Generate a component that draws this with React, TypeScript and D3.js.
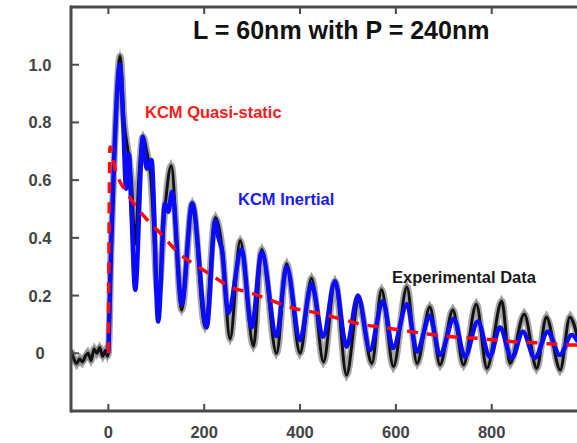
import React from 'react';
import * as d3 from 'd3';

// ---- data ----
const titleText = 'L = 60nm with P = 240nm';

const xTicks = [0, 200, 400, 600, 800];
const xTickLabels = ['0', '200', '400', '600', '800'];
const yTicks = [0, 0.2, 0.4, 0.6, 0.8, 1.0];
const yTickLabels = ['0', '0.2', '0.4', '0.6', '0.8', '1.0'];

// Experimental data (black, with grey uncertainty band)
const expX = [
  -78, -72, -66, -60, -54, -48, -42, -36, -30, -24, -18, -12, -6, -2, 0,
  5.6, 12, 24.5, 33, 41, 48, 56, 64, 72, 80, 88, 104, 118, 131, 153, 175, 202, 223, 237,
  254, 275, 303, 320, 351, 372, 400, 424, 449, 473, 497, 522, 550, 570, 595, 623, 644,
  671, 692, 719, 741, 768, 790, 821, 838, 868, 894, 914, 943, 963, 980,
];
const expY = [
  0.01, -0.02, -0.035, -0.02, -0.03, -0.01, 0.0, -0.025, 0.015, 0.0, 0.02, -0.01, 0.01, -0.01, 0.0,
  0.36, 0.67, 1.03, 0.8, 0.7, 0.6, 0.38, 0.62, 0.75, 0.7, 0.62, 0.2, 0.5, 0.65, 0.15, 0.52, 0.09, 0.47, 0.37,
  0.05, 0.39, 0.025, 0.36, 0.0, 0.31, 0.0, 0.26, -0.03, 0.25, -0.075, 0.18, -0.035, 0.22, -0.046, 0.23, -0.035,
  0.16, -0.04, 0.15, -0.04, 0.17, -0.052, 0.18, -0.035, 0.135, -0.052, 0.125, -0.058, 0.125, 0.05,
];

// KCM Inertial (blue)
const inertialX = [
  0, 5.6, 12, 24, 31, 37, 43, 48, 56, 72, 80, 90, 104, 118, 125, 133, 153, 175, 205, 223, 230, 237,
  250, 278, 299, 320, 351, 372, 400, 424, 448, 473, 497, 521, 546, 573, 594, 623, 644, 671, 692,
  721, 744, 771, 796, 817, 842, 865, 890, 917, 942, 967, 980,
];
const inertialY = [
  0, 0.36, 0.67, 1.0, 0.8, 0.57, 0.69, 0.5, 0.22, 0.75, 0.64, 0.67, 0.11, 0.52, 0.49, 0.56, 0.17, 0.52, 0.09, 0.46, 0.4, 0.36,
  0.14, 0.36, 0.09, 0.35, 0.06, 0.3, 0.046, 0.24, 0.057, 0.25, 0.023, 0.2, 0.011, 0.18, 0.018, 0.17, 0.006, 0.13, -0.006,
  0.12, -0.012, 0.11, -0.012, 0.09, -0.016, 0.075, -0.016, 0.075, -0.006, 0.063, 0.04,
];

// KCM Quasi-static (red dashed)
const quasiX = [
  0, 3.5, 14, 41, 77, 112, 145, 181, 216, 254, 296, 337, 385, 435, 483, 529, 573, 623, 667,
  717, 761, 807, 859, 901, 953, 980,
];
const quasiY = [
  0, 0.715, 0.64, 0.55, 0.47, 0.41, 0.35, 0.306, 0.27, 0.23, 0.21, 0.185, 0.157, 0.14, 0.12, 0.1,
  0.09, 0.077, 0.067, 0.057, 0.053, 0.046, 0.039, 0.036, 0.029, 0.029,
];

const annotations = [
  { text: 'KCM Quasi-static', x: 145, y: 118, color: '#ff1a1a' },
  { text: 'KCM Inertial', x: 238, y: 205, color: '#1a1aff' },
  { text: 'Experimental Data', x: 392, y: 283, color: '#1a1a1a' },
];

const W = 577;
const H = 443;
const plot = { left: 71, right: 577, top: 7, bottom: 411 };

export default function App() {
  const x = d3.scaleLinear().domain([-78, 978]).range([plot.left, plot.right]);
  const y = d3.scaleLinear().domain([-0.2, 1.2]).range([plot.bottom, plot.top]);

  const pts = (xs: number[], ys: number[]) => xs.map((v, i) => [v, ys[i]] as [number, number]);
  const line = d3
    .line<[number, number]>()
    .x((d) => x(d[0]))
    .y((d) => y(d[1]))
    .curve(d3.curveMonotoneX);
  const band = d3
    .area<[number, number]>()
    .x((d) => x(d[0]))
    .y0((d) => y(d[1] - 0.022))
    .y1((d) => y(d[1] + 0.022))
    .curve(d3.curveMonotoneX);

  const exp = pts(expX, expY);
  const inertial = pts(inertialX, inertialY);
  const quasi = pts(quasiX, quasiY);

  const axisColor = '#4a4a4a';
  const font = '"Liberation Sans", Arial, sans-serif';

  return (
    <svg
      width={W}
      height={H}
      style={{ position: 'absolute', left: 0, top: 0, background: '#fff' }}
    >
      <defs>
        <clipPath id="plotClip">
          <rect x={plot.left} y={plot.top} width={plot.right - plot.left} height={plot.bottom - plot.top} />
        </clipPath>
      </defs>
      <rect x={0} y={0} width={W} height={H} fill="#fff" />

      <g clipPath="url(#plotClip)">
        <path d={band(exp) || ''} fill="#8a8a8a" opacity={0.75} />
        <path d={line(exp) || ''} fill="none" stroke="#8a8a8a" strokeWidth={7} strokeLinejoin="round" opacity={0.75} />
        <path d={line(exp) || ''} fill="none" stroke="#111" strokeWidth={3} strokeLinejoin="round" />
        <path d={line(inertial) || ''} fill="none" stroke="#0a0aff" strokeWidth={4.5} strokeLinejoin="round" />
        <path
          d={line(quasi) || ''}
          fill="none"
          stroke="#ff0a0a"
          strokeWidth={3.5}
          strokeDasharray="11,9"
        />
      </g>

      {/* frame */}
      <g stroke={axisColor} strokeWidth={3} fill="none">
        <line x1={plot.left} x2={plot.left} y1={plot.top - 1.5} y2={plot.bottom + 1.5} />
        <line x1={plot.left} x2={plot.right} y1={plot.top} y2={plot.top} />
        <line x1={plot.left} x2={plot.right} y1={plot.bottom} y2={plot.bottom} />
      </g>

      {/* ticks */}
      <g stroke={axisColor} strokeWidth={2}>
        {xTicks.map((t) => (
          <g key={'xt' + t}>
            <line x1={x(t)} x2={x(t)} y1={plot.bottom} y2={plot.bottom - 7} />
            <line x1={x(t)} x2={x(t)} y1={plot.top} y2={plot.top + 7} />
          </g>
        ))}
        {yTicks.map((t) => (
          <line key={'yt' + t} x1={plot.left} x2={plot.left + 8} y1={y(t)} y2={y(t)} />
        ))}
      </g>

      {/* tick labels */}
      <g fontFamily={font} fontWeight="bold" fontSize={16.5} fill="#444">
        {xTicks.map((t, i) => (
          <text key={'xl' + t} x={x(t)} y={438} textAnchor="middle">
            {xTickLabels[i]}
          </text>
        ))}
        {yTicks.map((t, i) => (
          <text key={'yl' + t} x={40} y={y(t)} dy="0.36em" textAnchor="middle">
            {yTickLabels[i]}
          </text>
        ))}
      </g>

      {/* title */}
      <text x={193} y={39} fontFamily={font} fontWeight="bold" fontSize={25} fill="#111">
        {titleText}
      </text>

      {/* annotations */}
      {annotations.map((a) => (
        <text key={a.text} x={a.x} y={a.y} fontFamily={font} fontWeight="bold" fontSize={16.5} fill={a.color}>
          {a.text}
        </text>
      ))}
    </svg>
  );
}
